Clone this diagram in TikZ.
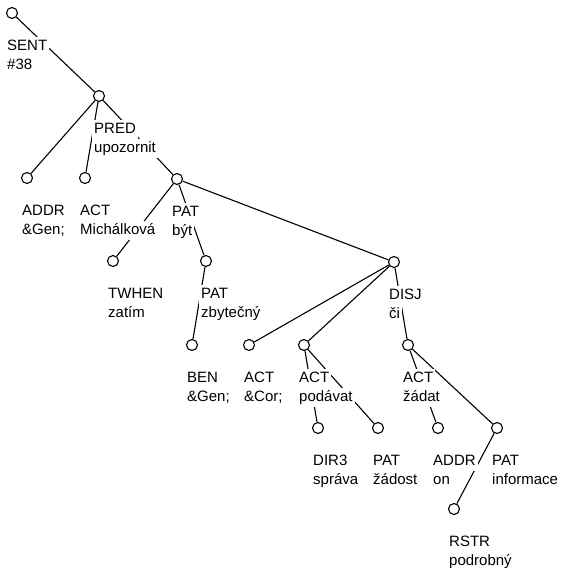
\documentclass[tikz,border=0pt]{standalone}
\usepackage{fontspec}
\setmainfont{Liberation Sans}
\begin{document}
\begin{tikzpicture}[x=1pt,y=-1pt,
  dot/.style={circle,draw,fill=white,minimum size=11pt,inner sep=0pt,line width=1.1pt},
  edge/.style={line width=1.1pt},
  labtxt/.style={anchor=base west,inner xsep=2pt,inner ysep=2.5pt,text height=11pt,text depth=3.5pt,fill=white,font=\fontsize{15}{19}\selectfont,xshift=-7pt},
  top/.style={labtxt,yshift=-37pt},
  bot/.style={labtxt,yshift=-56pt}]
\useasboundingbox (0,0) rectangle (563,570);
% nodes (circles)
\node[dot] (sent) at (12,13) {};
\node[dot] (pred) at (99,96) {};
\node[dot] (addr) at (27,178) {};
\node[dot] (actm) at (85,178) {};
\node[dot] (byt) at (177,179) {};
\node[dot] (twhen) at (113,261) {};
\node[dot] (zbyt) at (206,261) {};
\node[dot] (disj) at (394,262) {};
\node[dot] (ben) at (192,345) {};
\node[dot] (actc) at (249,345) {};
\node[dot] (podav) at (304,345) {};
\node[dot] (zadat) at (408,345) {};
\node[dot] (dir) at (318,428) {};
\node[dot] (zados) at (378,428) {};
\node[dot] (on) at (438,428) {};
\node[dot] (inf) at (497,428) {};
\node[dot] (rstr) at (454,509) {};
% edges
\draw[edge] (sent) -- (pred);
\draw[edge] (pred) -- (addr);
\draw[edge] (pred) -- (actm);
\draw[edge] (pred) -- (byt);
\draw[edge] (byt) -- (twhen);
\draw[edge] (byt) -- (zbyt);
\draw[edge] (byt) -- (disj);
\draw[edge] (zbyt) -- (ben);
\draw[edge] (disj) -- (actc);
\draw[edge] (disj) -- (podav);
\draw[edge] (disj) -- (zadat);
\draw[edge] (podav) -- (dir);
\draw[edge] (podav) -- (zados);
\draw[edge] (zadat) -- (on);
\draw[edge] (zadat) -- (inf);
\draw[edge] (inf) -- (rstr);
% labels (functor on the first line, lemma on the second)
\node[top] (sent-f) at (sent) {SENT};   \node[bot] (sent-l) at (sent) {\#38};
\node[top] (pred-f) at (pred) {PRED};   \node[bot] (pred-l) at (pred) {upozornit};
\node[top] (addr-f) at (addr) {ADDR};   \node[bot] (addr-l) at (addr) {\&Gen;};
\node[top] (actm-f) at (actm) {ACT};    \node[bot] (actm-l) at (actm) {Michálková};
\node[top] (byt-f) at (byt) {PAT};      \node[bot] (byt-l) at (byt) {být};
\node[top] (twhen-f) at (twhen) {TWHEN};\node[bot] (twhen-l) at (twhen) {zatím};
\node[top] (zbyt-f) at (zbyt) {PAT};    \node[bot] (zbyt-l) at (zbyt) {zbytečný};
\node[top] (disj-f) at (disj) {DISJ};   \node[bot] (disj-l) at (disj) {či};
\node[top] (ben-f) at (ben) {BEN};      \node[bot] (ben-l) at (ben) {\&Gen;};
\node[top] (actc-f) at (actc) {ACT};    \node[bot] (actc-l) at (actc) {\&Cor;};
\node[top] (podav-f) at (podav) {ACT};  \node[bot] (podav-l) at (podav) {podávat};
\node[top] (zadat-f) at (zadat) {ACT};  \node[bot] (zadat-l) at (zadat) {žádat};
\node[top] (dir-f) at (dir) {DIR3};     \node[bot] (dir-l) at (dir) {správa};
\node[top] (zados-f) at (zados) {PAT};  \node[bot] (zados-l) at (zados) {žádost};
\node[top] (on-f) at (on) {ADDR};       \node[bot] (on-l) at (on) {on};
\node[top] (inf-f) at (inf) {PAT};      \node[bot] (inf-l) at (inf) {informace};
\node[top] (rstr-f) at (rstr) {RSTR};   \node[bot] (rstr-l) at (rstr) {podrobný};
\end{tikzpicture}
\end{document}
